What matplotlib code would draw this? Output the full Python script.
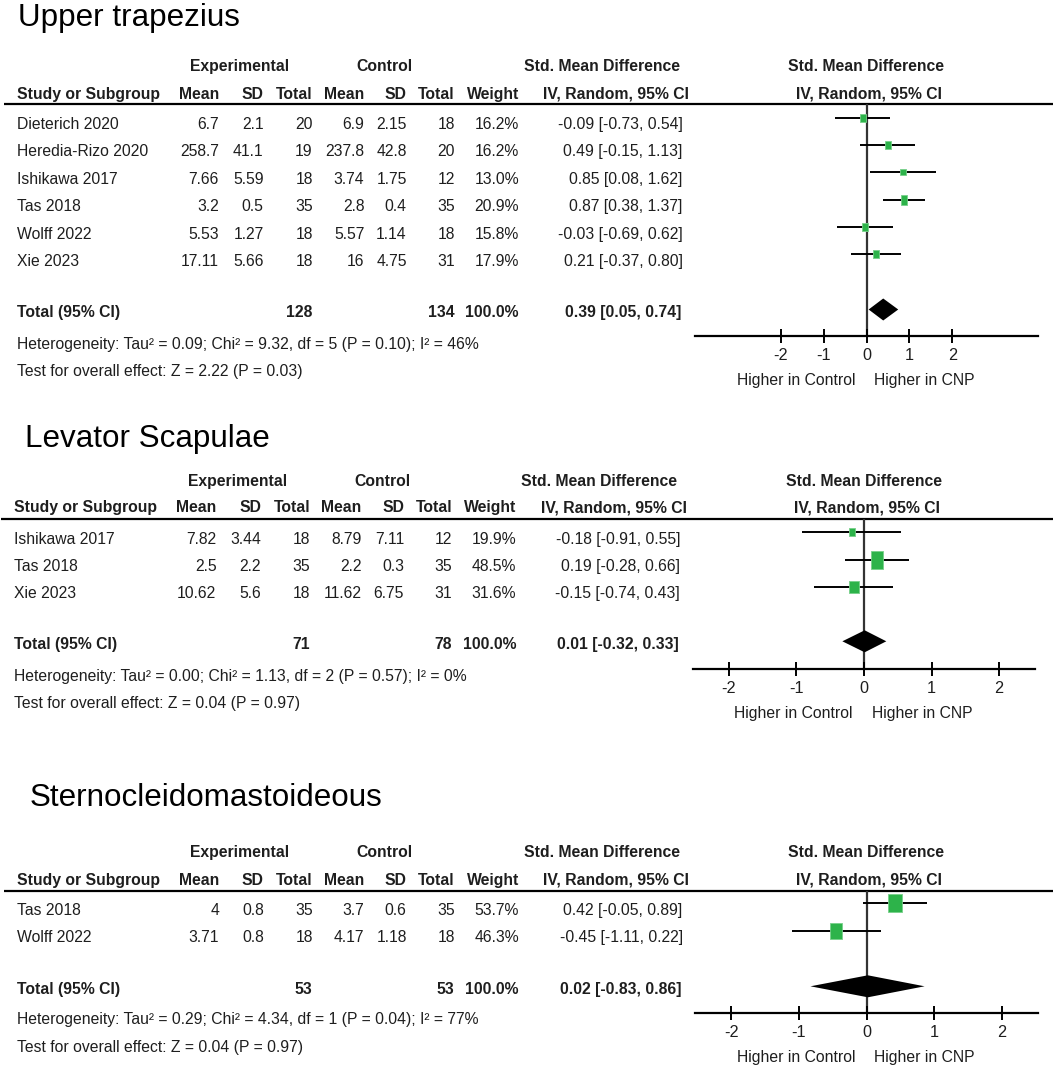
import matplotlib
matplotlib.use("Agg")
import matplotlib.pyplot as plt
from matplotlib import font_manager
from matplotlib.path import Path

W, H = 1053, 1070

# ---- data -------------------------------------------------------------------

UT_STUDIES = ["Dieterich 2020", "Heredia-Rizo 2020", "Ishikawa 2017", "Tas 2018", "Wolff 2022", "Xie 2023"]
UT_EXP_MEAN = [6.7, 258.7, 7.66, 3.2, 5.53, 17.11]
UT_EXP_SD = [2.1, 41.1, 5.59, 0.5, 1.27, 5.66]
UT_EXP_N = [20, 19, 18, 35, 18, 18]
UT_CTL_MEAN = [6.9, 237.8, 3.74, 2.8, 5.57, 16]
UT_CTL_SD = [2.15, 42.8, 1.75, 0.4, 1.14, 4.75]
UT_CTL_N = [18, 20, 12, 35, 18, 31]
UT_WEIGHT = [16.2, 16.2, 13.0, 20.9, 15.8, 17.9]
UT_SMD = [-0.09, 0.49, 0.85, 0.87, -0.03, 0.21]
UT_LO = [-0.73, -0.15, 0.08, 0.38, -0.69, -0.37]
UT_HI = [0.54, 1.13, 1.62, 1.37, 0.62, 0.80]
UT_TOTAL = (128, 134, 0.39, 0.05, 0.74)
UT_HET = (0.09, 9.32, 5, 0.10, 46)      # tau2, chi2, df, P, I2
UT_Z = (2.22, 0.03)

LS_STUDIES = ["Ishikawa 2017", "Tas 2018", "Xie 2023"]
LS_EXP_MEAN = [7.82, 2.5, 10.62]
LS_EXP_SD = [3.44, 2.2, 5.6]
LS_EXP_N = [18, 35, 18]
LS_CTL_MEAN = [8.79, 2.2, 11.62]
LS_CTL_SD = [7.11, 0.3, 6.75]
LS_CTL_N = [12, 35, 31]
LS_WEIGHT = [19.9, 48.5, 31.6]
LS_SMD = [-0.18, 0.19, -0.15]
LS_LO = [-0.91, -0.28, -0.74]
LS_HI = [0.55, 0.66, 0.43]
LS_TOTAL = (71, 78, 0.01, -0.32, 0.33)
LS_HET = (0.00, 1.13, 2, 0.57, 0)
LS_Z = (0.04, 0.97)

SCM_STUDIES = ["Tas 2018", "Wolff 2022"]
SCM_EXP_MEAN = [4, 3.71]
SCM_EXP_SD = [0.8, 0.8]
SCM_EXP_N = [35, 18]
SCM_CTL_MEAN = [3.7, 4.17]
SCM_CTL_SD = [0.6, 1.18]
SCM_CTL_N = [35, 18]
SCM_WEIGHT = [53.7, 46.3]
SCM_SMD = [0.42, -0.45]
SCM_LO = [-0.05, -1.11]
SCM_HI = [0.89, 0.22]
SCM_TOTAL = (53, 53, 0.02, -0.83, 0.86)
SCM_HET = (0.29, 4.34, 1, 0.04, 77)
SCM_Z = (0.04, 0.97)

TICKS = [-2, -1, 0, 1, 2]

PANELS = [
    dict(title="Upper trapezius", studies=UT_STUDIES,
         cols=[UT_EXP_MEAN, UT_EXP_SD, UT_EXP_N, UT_CTL_MEAN, UT_CTL_SD, UT_CTL_N],
         weight=UT_WEIGHT, smd=UT_SMD, lo=UT_LO, hi=UT_HI, total=UT_TOTAL, het=UT_HET, z=UT_Z),
    dict(title="Levator Scapulae", studies=LS_STUDIES,
         cols=[LS_EXP_MEAN, LS_EXP_SD, LS_EXP_N, LS_CTL_MEAN, LS_CTL_SD, LS_CTL_N],
         weight=LS_WEIGHT, smd=LS_SMD, lo=LS_LO, hi=LS_HI, total=LS_TOTAL, het=LS_HET, z=LS_Z),
    dict(title="Sternocleidomastoideous", studies=SCM_STUDIES,
         cols=[SCM_EXP_MEAN, SCM_EXP_SD, SCM_EXP_N, SCM_CTL_MEAN, SCM_CTL_SD, SCM_CTL_N],
         weight=SCM_WEIGHT, smd=SCM_SMD, lo=SCM_LO, hi=SCM_HI, total=SCM_TOTAL, het=SCM_HET, z=SCM_Z),
]

# ---- layout (pixels, y down) ------------------------------------------------

LAYOUT = [
    dict(tx=18, ty=26, dx=0, h1=65, h2=93, line=104, row0=123.5, step=27.35, total=311.5,
         het=343.3, test=370, axis=336, x0=695, x1=1038, lim=4.0),
    dict(tx=25, ty=447, dx=-2.7, h1=480, h2=506.7, line=519, row0=538.3, step=27.2, total=643.3,
         het=675, test=702, axis=669.3, x0=693, x1=1035, lim=2.53),
    dict(tx=29.5, ty=806, dx=0, h1=851.7, h2=879, line=890.7, row0=909.3, step=27.4, total=988.3,
         het=1018.3, test=1046, axis=1013, x0=695, x1=1038, lim=2.54),
]
COL_RIGHT = [219.1, 263.7, 312.7, 364.4, 406.7, 454.7]
WEIGHT_RIGHT = 518.9
CI_RIGHT = 682.7
STUDY_LEFT = 16.9

names = {f.name for f in font_manager.fontManager.ttflist}
if "Liberation Sans Narrow" in names:
    BODY, FS = "Liberation Sans Narrow", 13.5
else:
    BODY, FS = "Liberation Sans", 11.3
TITLE_FONT, TITLE_FS = "Liberation Sans", 22.6
CAP = 0.716 * FS * 100 / 72 / 2      # half cap height in px
INK = "#1e1e1e"
GREEN, GREEN_EDGE = "#2db34a", "#78d08a"

plt.rcParams["axes.unicode_minus"] = False

RECT = Path([(-0.375, -0.5), (0.375, -0.5), (0.375, 0.5), (-0.375, 0.5), (-0.375, -0.5)],
            [Path.MOVETO, Path.LINETO, Path.LINETO, Path.LINETO, Path.CLOSEPOLY])

fig = plt.figure(figsize=(W / 100, H / 100), dpi=100)
bg = fig.add_axes([0, 0, 1, 1])
bg.set_xlim(0, W); bg.set_ylim(H, 0); bg.axis("off")


def txt(x, yc, s, ha="left", bold=False, **kw):
    bg.text(x, yc + CAP, s, ha=ha, va="baseline", family=[BODY, "DejaVu Sans"], fontsize=FS,
            fontweight="bold" if bold else "normal", color=INK, **kw)


def fmt(v):
    return f"{v:g}"


for p, L in zip(PANELS, LAYOUT):
    dx = L["dx"]
    zero = (L["x0"] + L["x1"]) / 2
    bg.text(L["tx"], L["ty"], p["title"], family=[TITLE_FONT, "DejaVu Sans"], fontsize=TITLE_FS,
            va="baseline", color="black")

    # header
    txt(240 + dx, L["h1"], "Experimental", ha="center", bold=True)
    txt(384.7 + dx, L["h1"], "Control", ha="center", bold=True)
    txt(601.8 + dx, L["h1"], "Std. Mean Difference", ha="center", bold=True)
    txt(zero, L["h1"], "Std. Mean Difference", ha="center", bold=True)
    txt(STUDY_LEFT + dx, L["h2"], "Study or Subgroup", bold=True)
    for x, lab in zip(COL_RIGHT, ["Mean", "SD", "Total", "Mean", "SD", "Total"]):
        txt(x + dx, L["h2"], lab, ha="right", bold=True)
    txt(WEIGHT_RIGHT + dx, L["h2"], "Weight", ha="right", bold=True)
    txt(689.4 + dx, L["h2"], "IV, Random, 95% CI", ha="right", bold=True)
    txt(zero + 3, L["h2"], "IV, Random, 95% CI", ha="center", bold=True)
    bg.plot([4 + dx, W], [L["line"], L["line"]], color="black", lw=1.6, solid_capstyle="butt")

    # study rows
    rows = [L["row0"] + i * L["step"] for i in range(len(p["studies"]))]
    for i, y in enumerate(rows):
        txt(STUDY_LEFT + dx, y, p["studies"][i])
        for x, col in zip(COL_RIGHT, p["cols"]):
            txt(x + dx, y, fmt(col[i]), ha="right")
        txt(WEIGHT_RIGHT + dx, y, f"{p['weight'][i]:.1f}%", ha="right")
        txt(CI_RIGHT + dx, y, f"{p['smd'][i]:.2f} [{p['lo'][i]:.2f}, {p['hi'][i]:.2f}]", ha="right")

    ne, nc, est, tlo, thi = p["total"]
    txt(STUDY_LEFT + dx, L["total"], "Total (95% CI)", bold=True)
    txt(COL_RIGHT[2] + dx, L["total"], str(ne), ha="right", bold=True)
    txt(COL_RIGHT[5] + dx, L["total"], str(nc), ha="right", bold=True)
    txt(WEIGHT_RIGHT + dx, L["total"], "100.0%", ha="right", bold=True)
    txt(CI_RIGHT - 1.5 + dx, L["total"], f"{est:.2f} [{tlo:.2f}, {thi:.2f}]", ha="right", bold=True)

    tau2, chi2, df, ph, i2 = p["het"]
    txt(STUDY_LEFT + dx, L["het"],
        f"Heterogeneity: Tau\u00b2 = {tau2:.2f}; Chi\u00b2 = {chi2:.2f}, df = {df} (P = {ph:.2f}); I\u00b2 = {i2}%")
    z, pz = p["z"]
    txt(STUDY_LEFT + dx, L["test"], f"Test for overall effect: Z = {z:.2f} (P = {pz:.2f})")

    # forest plot
    ax = fig.add_axes([L["x0"] / W, 1 - L["axis"] / H, (L["x1"] - L["x0"]) / W, (L["axis"] - L["line"]) / H])
    ax.set_xlim(-L["lim"], L["lim"])
    ax.set_ylim(L["axis"], L["line"])
    ax.patch.set_visible(False)
    for s in ("top", "left", "right"):
        ax.spines[s].set_visible(False)
    ax.spines["bottom"].set_linewidth(1.6)
    ax.set_yticks([])
    ax.set_xticks(TICKS)
    ax.set_xticklabels([str(t) for t in TICKS], family=[BODY, "DejaVu Sans"], fontsize=FS + 0.4, color=INK)
    ax.tick_params(axis="x", direction="inout", length=10, width=1.4, pad=3.5)
    ax.axvline(0, color="#333333", lw=1.6, zorder=1)

    prow = [y - 6 for y in rows]
    ax.hlines(prow, p["lo"], p["hi"], color="black", lw=1.4, zorder=2)
    for x, y, w in zip(p["smd"], prow, p["weight"]):
        h_px = 1.33 * (2.4 + 0.216 * w)
        ax.plot(x, y, marker=RECT, ms=h_px * 0.72, mfc=GREEN, mec=GREEN_EDGE, mew=0.6, zorder=3)
    yd = L["total"] - 2
    ax.fill([tlo, est, thi, est], [yd, yd - 11, yd, yd + 11], color="black", lw=0, zorder=3)

    txt(zero - 11, L["axis"] + 43, "Higher in Control", ha="right")
    txt(zero + 8, L["axis"] + 43, "Higher in CNP", ha="left")

fig.savefig("out.png", dpi=100)
